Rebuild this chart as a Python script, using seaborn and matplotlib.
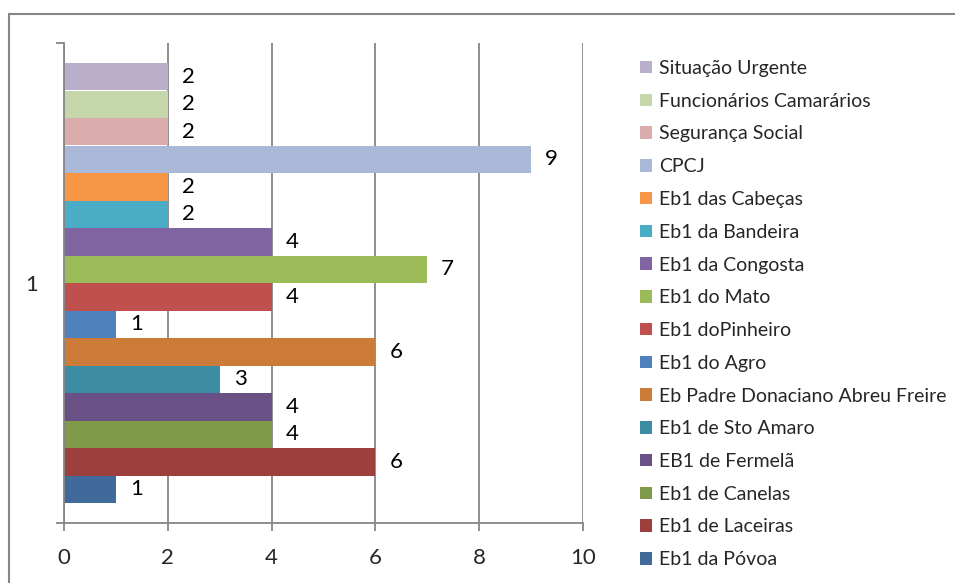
import pandas as pd
import seaborn as sns
import matplotlib.pyplot as plt
from matplotlib.patches import Rectangle

# series listed top to bottom, as in the legend
series = ['Situação Urgente', 'Funcionários Camarários', 'Segurança Social', 'CPCJ',
          'Eb1 das Cabeças', 'Eb1 da Bandeira', 'Eb1 da Congosta', 'Eb1 do Mato',
          'Eb1 doPinheiro', 'Eb1 do Agro', 'Eb Padre Donaciano Abreu Freire',
          'Eb1 de Sto Amaro', 'EB1 de Fermelã', 'Eb1 de Canelas', 'Eb1 de Laceiras',
          'Eb1 da Póvoa']
values = [2, 2, 2, 9, 2, 2, 4, 7, 4, 1, 6, 3, 4, 4, 6, 1]
colors = ['#B9AFCB', '#C6D7AC', '#DAACAB', '#AAB9D7', '#F79646', '#4BACC6',
          '#8064A2', '#9BBB59', '#C0504D', '#4F81BD', '#CC7B38', '#3C8DA3',
          '#6A5185', '#7F9A48', '#9D3F3D', '#3F6A9A']
category = ['1'] * len(series)
xticks = [0, 2, 4, 6, 8, 10]

df = pd.DataFrame({'cat': category, 'serie': series, 'valor': values})

sns.set_style('white')
plt.rcParams['font.family'] = ['Lato', 'DejaVu Sans']

fig = plt.figure(figsize=(9.55, 5.83), dpi=100)
ax = fig.add_axes([64 / 955, 1 - 523 / 583, (583 - 64) / 955, (523 - 43) / 583])

sns.barplot(data=df, x='valor', y='cat', hue='serie', hue_order=series,
            palette=colors, orient='h', width=440 / 480, dodge=True,
            saturation=1, linewidth=0, edgecolor='none', ax=ax, legend=True)

for cont in ax.containers:
    ax.bar_label(cont, padding=10, fontsize=16, color='black')

ax.set_xlim(0, 10)
ax.set_ylim(0.5, -0.5)
ax.set_xticks(xticks)
ax.set_xticklabels([str(t) for t in xticks], fontsize=16)
ax.set_yticks([0])
ax.set_yticklabels(['1'], fontsize=16)
ax.set_yticks([-0.5, 0.5], minor=True)
ax.set_xlabel('')
ax.set_ylabel('')

grey = '#868686'
ax.grid(axis='x', color=grey, linewidth=1.3)
ax.grid(axis='y', visible=False)
ax.set_axisbelow(True)
for side in ['top', 'right']:
    ax.spines[side].set_visible(False)
for side in ['left', 'bottom']:
    ax.spines[side].set_color(grey)
    ax.spines[side].set_linewidth(1.3)
ax.tick_params(axis='x', which='major', bottom=True, length=6, width=1.3, color=grey,
               pad=12, direction='out')
ax.tick_params(axis='y', which='major', left=True, length=0, pad=19)
ax.tick_params(axis='y', which='minor', left=True, length=6, width=1.3, color=grey,
               direction='out')

handles, labels = ax.get_legend_handles_labels()
ax.legend(handles, labels, loc='upper left', bbox_to_anchor=(640 / 955, 1 - 60 / 583),
          bbox_transform=fig.transFigure, frameon=False, fontsize=14,
          handlelength=0.6, handleheight=0.6, handletextpad=0.4,
          labelspacing=0.81, borderaxespad=0, borderpad=0)

# outer chart frame (continues past the right and bottom edges)
fig.patches.append(Rectangle((8.5 / 955, -0.05), 1.1, 1 - 13.5 / 583 + 0.05,
                             transform=fig.transFigure, fill=False,
                             edgecolor=grey, linewidth=1.5))

fig.savefig('out.png', dpi=100)
